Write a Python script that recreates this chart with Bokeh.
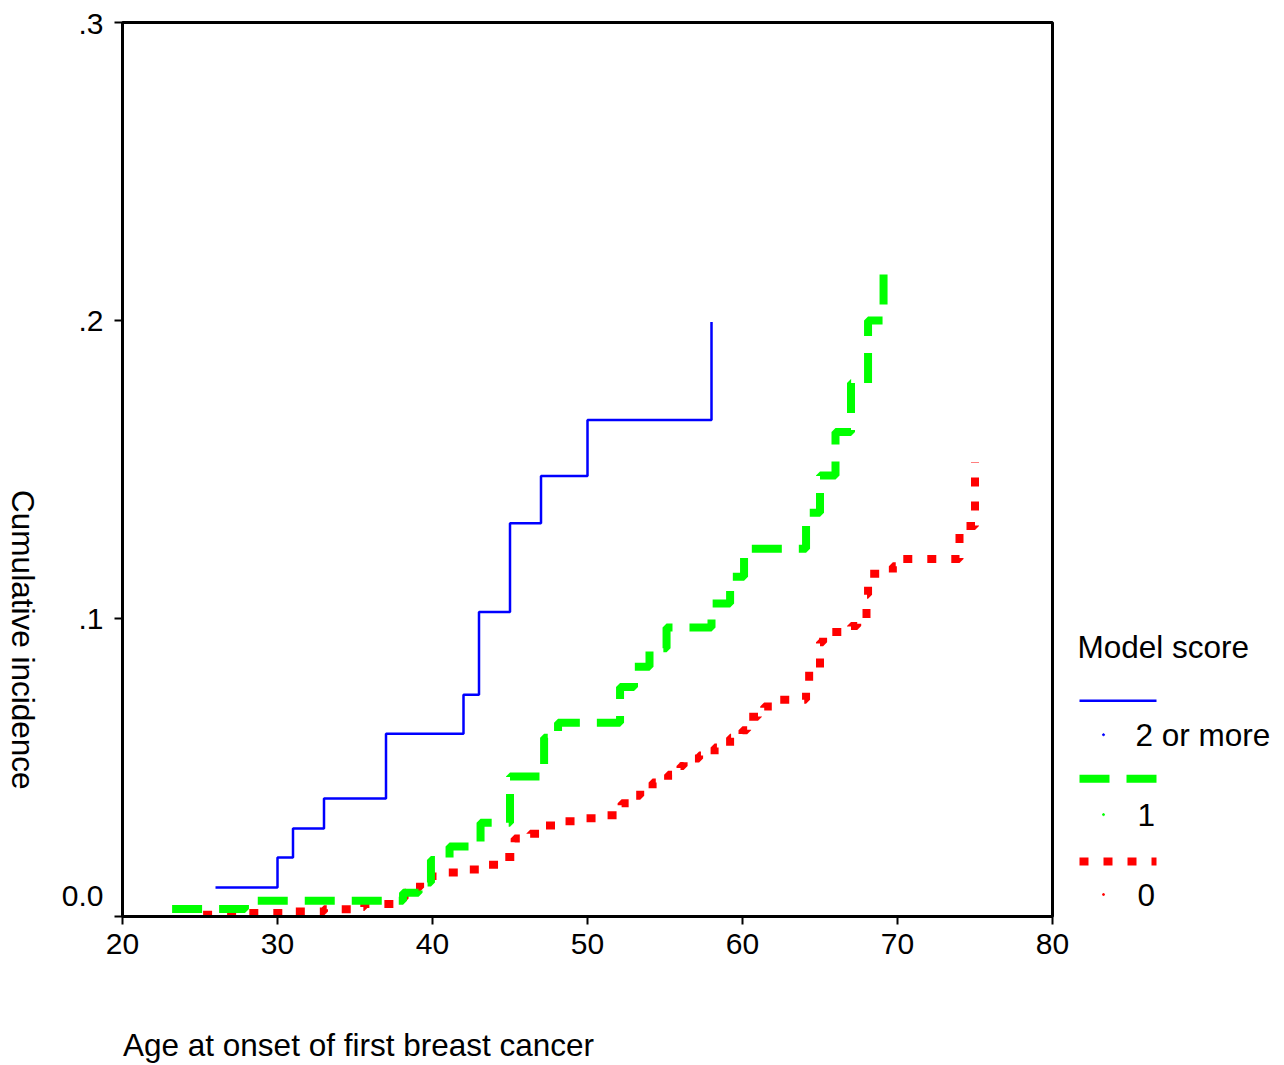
import math
from bokeh.plotting import figure
from bokeh.models import Range1d, FixedTicker, LinearAxis
from bokeh.layouts import row
from bokeh.core.properties import value
from bokeh.embed import file_html
from bokeh.resources import INLINE

# ---- data ----
blue_age = [26.0, 30.0, 31.0, 33.0, 37.0, 42.0, 43.0, 45.0, 47.0, 50.0, 58.0]
blue_inc = [0.0097, 0.0198, 0.0295, 0.0396, 0.0613, 0.0744, 0.1022, 0.1320, 0.1478, 0.1666, 0.1995]

green_age = [23.2, 27.9, 38.1, 39.1, 39.9, 41.1, 43.1, 45.0, 47.2, 48.1, 52.1, 53.0,
             54.0, 55.1, 58.0, 59.2, 60.1, 64.1, 65.0, 66.0, 67.0, 68.1, 69.1]
green_inc = [0.0025, 0.0053, 0.0080, 0.0114, 0.0190, 0.0235, 0.0315, 0.0470, 0.0600, 0.0650, 0.0770, 0.0838,
             0.0900, 0.0970, 0.1050, 0.1140, 0.1234, 0.1355, 0.1480, 0.1626, 0.1790, 0.2000, 0.2210]

red_age = [25.2, 27.5, 31.0, 33.0, 35.0, 35.6, 37.5, 38.2, 38.6, 39.2, 40.0, 42.0,
           43.2, 44.5, 45.3, 46.3, 47.1, 48.3, 49.5, 51.0, 52.2, 53.0, 53.4, 54.2,
           55.2, 56.0, 56.2, 57.2, 58.2, 59.2, 60.0, 60.3, 61.0, 61.4, 62.3, 64.1,
           64.3, 65.0, 65.2, 67.0, 67.4, 68.0, 68.1, 69.7, 70.1, 74.0, 75.0]
red_inc = [0.0006, 0.0012, 0.0017, 0.0024, 0.0032, 0.0042, 0.0060, 0.0080, 0.0097, 0.0117, 0.0148, 0.0158,
           0.0174, 0.0200, 0.0262, 0.0278, 0.0305, 0.0320, 0.0330, 0.0340, 0.0380, 0.0405, 0.0430, 0.0450,
           0.0476, 0.0505, 0.0530, 0.0540, 0.0567, 0.0600, 0.0625, 0.0670, 0.0685, 0.0705, 0.0727, 0.0790,
           0.0835, 0.0920, 0.0955, 0.0975, 0.1000, 0.1080, 0.1150, 0.1175, 0.1200, 0.1310, 0.1525]

x_ticks = [20, 30, 40, 50, 60, 70, 80]
y_ticks = [0, 0.1, 0.2, 0.3]
# tick-label axis is in thousandths; "0.0" sits slightly above its tick in the reference
y_label_pos = [70, 1000, 2000, 2995]
y_label_txt = ["0.0", ".1", ".2", ".3"]

series_names = ["2 or more", "1", "0"]
legend_title = "Model score"
x_title = "Age at onset of first breast cancer"
y_title = "Cumulative incidence"

FONT = "Liberation Sans"
BLUE = "#0000ff"
GREEN = "#00ff00"
RED = "#ff0000"
H = 1065
TOP, BOT = 22, 917          # frame edges (all panels in the row share them)
LPW, MW = 42, 1030
LW = 1284 - LPW - MW
LX0 = LPW + MW              # page x where the legend panel starts


def panel(w):
    f = figure(width=w, height=H, x_range=Range1d(0, w), y_range=Range1d(BOT, TOP),
               output_backend="svg", toolbar_location=None,
               x_axis_location=None, y_axis_location=None,
               min_border_left=0, min_border_right=0, min_border_top=TOP, min_border_bottom=H - BOT)
    f.xgrid.visible = False
    f.ygrid.visible = False
    f.outline_line_color = None
    return f


# ---- left panel with y title ----
lp = panel(LPW)
lp.text([22], [640], text=[y_title], text_font=value(FONT), text_font_size="31.5px",
        angle=-math.pi / 2, text_align="center", text_baseline="middle", text_color="black")

# ---- main plot ----
p = figure(width=MW, height=H, x_range=Range1d(20, 80), y_range=Range1d(0, 0.3),
           output_backend="svg", toolbar_location=None,
           min_border_left=122 - LPW, min_border_right=MW - (122 - LPW) - 930,
           min_border_top=TOP, min_border_bottom=H - BOT)
p.extra_y_ranges = {"lab": Range1d(0, 3000)}
p.extra_x_ranges = {"ttl": Range1d(0, 930)}
p.xgrid.visible = False
p.ygrid.visible = False
p.outline_line_color = "black"
p.outline_line_width = 3
p.outline_line_alpha = 1.0

for ax in (p.xaxis[0], p.yaxis[0]):
    ax.axis_line_width = 3
    ax.axis_line_color = "black"
    ax.major_tick_out = 8
    ax.major_tick_in = 0
    ax.major_tick_line_width = 2
    ax.minor_tick_line_color = None
    ax.major_label_text_font = FONT
    ax.major_label_text_font_size = "30px"
    ax.major_label_text_color = "black"

p.xaxis.ticker = FixedTicker(ticks=x_ticks)
p.xaxis.major_label_standoff = 9
p.yaxis.ticker = FixedTicker(ticks=y_ticks)
p.yaxis.major_label_overrides = {0: "", 0.1: "", 0.2: "", 0.3: ""}
p.yaxis.major_label_standoff = 0

lab_axis = LinearAxis(y_range_name="lab", ticker=FixedTicker(ticks=y_label_pos),
                      major_label_overrides=dict(zip(y_label_pos, y_label_txt)),
                      axis_line_color=None, major_tick_line_color=None, minor_tick_line_color=None,
                      major_tick_out=0, major_tick_in=0, major_label_standoff=11,
                      major_label_text_font=FONT, major_label_text_font_size="30px",
                      major_label_text_color="black")
p.add_layout(lab_axis, "left")

# x title as a label-only axis below the x axis (centre of the text at 236 px from frame left)
ttl_axis = LinearAxis(x_range_name="ttl", ticker=FixedTicker(ticks=[236]),
                      major_label_overrides={236: x_title},
                      axis_line_color=None, major_tick_line_color=None, minor_tick_line_color=None,
                      major_tick_out=0, major_tick_in=0, major_label_standoff=70,
                      major_label_text_font=FONT, major_label_text_font_size="31.5px",
                      major_label_text_color="black")
p.add_layout(ttl_axis, "below")

p.step(red_age, red_inc, mode="after", line_color=RED, line_width=8, line_dash="9 15")
p.step(green_age, green_inc, mode="after", line_color=GREEN, line_width=8, line_dash="30 17")
p.step(blue_age, blue_inc, mode="after", line_color=BLUE, line_width=2.5)

# ---- legend panel (y in page pixels, x relative to panel start) ----
lg = panel(LW)
lg.text([1077 - LX0], [647], text=[legend_title], text_font=value(FONT), text_font_size="31.5px",
        text_baseline="middle", text_align="left", text_color="black")
sample_y = [701, 779, 862]
label_y = [735, 815, 895]
colors = [BLUE, GREEN, RED]
widths = [2.5, 8, 8]
dashes = ["solid", "30 17", "9 15"]
label_x = [1135, 1137, 1137]
for i in range(3):
    lg.line([1079 - LX0, 1156 - LX0], [sample_y[i], sample_y[i]], line_color=colors[i],
            line_width=widths[i], line_dash=dashes[i])
    lg.scatter([1103 - LX0], [label_y[i]], size=2, color=colors[i], marker="circle")
    lg.text([label_x[i] - LX0], [label_y[i]], text=[series_names[i]], text_font=value(FONT),
            text_font_size="31.5px", text_baseline="middle", text_align="left", text_color="black")

layout = row(lp, p, lg)
open("out.html", "w").write(file_html(layout, INLINE))
